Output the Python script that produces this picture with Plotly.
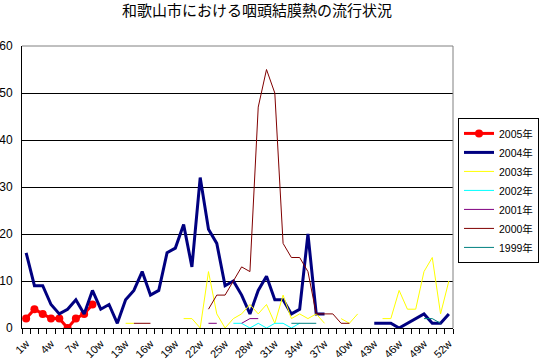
import plotly.graph_objects as go

N = None
weeks = list(range(1, 53))
week_labels = [f"{w}w" for w in weeks]

y2005 = [2, 4, 3, 2, 2, 0, 2, 3, 5] + [N] * 43
y2004 = [16, 9, 9, 5, 3, 4, 6, 3, 8, 4, 5, 1, 6, 8, 12, 7, 8, 16, 17, 22,
         13, 32, 21, 18, 9, 10, 7, 3, 8, 11, 6, 6, 3, 4, 20, 3, 3,
         N, N, N, N, N, 1, 1, 1, 0, 1, 2, 3, 1, 1, 3]
y2003 = [N] * 12 + [1, 1] + [N] * 5 + [2, 2, 0, 12, 3, 0, 2, 3, 5, 3, 5, 1, 7,
         2, 3, 2, 3, 1, N, 2, 1, 3, N, N, 2, 2, 8, 4, 4, 12, 15, 3, 10]
y2002 = [N] * 25 + [1, 1, 0, 1, 0, 1, 1, 0, 1] + [N] * 18
y2001 = [N] * 22 + [1, 1, N, N, 1, 2, 2] + [N] * 23
y2000 = [N] * 13 + [1, 1, 1] + [N] * 6 + [4, 7, 7, 10, 13, 12, 47, 55, 50, 18,
         15, 15, 12, 3, 3, 3, 1, 1] + [N] * 12
y1999 = [N] * 32 + [1, 1, 1, 1] + [N] * 12 + [2, 2, 1, N]

series = [
    ("2005年", y2005, "#FF0000", 3, True),
    ("2004年", y2004, "#000080", 3, False),
    ("2003年", y2003, "#FFFF00", 1, False),
    ("2002年", y2002, "#00FFFF", 1, False),
    ("2001年", y2001, "#800080", 1, False),
    ("2000年", y2000, "#800000", 1, False),
    ("1999年", y1999, "#008080", 1, False),
]

fig = go.Figure()
for name, ys, color, width, markers in series:
    fig.add_trace(go.Scatter(
        x=weeks, y=ys, name=name,
        mode="lines+markers" if markers else "lines",
        line=dict(color=color, width=width),
        marker=dict(size=8, color=color, symbol="circle"),
        connectgaps=False,
    ))

font_main = "Liberation Sans, Arial, Noto Sans CJK JP, sans-serif"

fig.update_layout(
    width=539, height=363,
    margin=dict(l=22, r=86, t=46, b=35, autoexpand=False),
    paper_bgcolor="white", plot_bgcolor="white",
    font=dict(family=font_main, size=11, color="black"),
    title=dict(text="和歌山市における咽頭結膜熱の流行状況",
               font=dict(family="Noto Sans CJK JP, sans-serif", size=15, color="black"),
               x=0.477, xanchor="center", y=0.985, yanchor="top", pad=dict(t=0, b=0)),
    showlegend=True,
    hovermode=False,
    legend=dict(x=(458 - 22) / 431, xanchor="left", y=0.745, yanchor="top",
                bordercolor="black", borderwidth=1, bgcolor="white",
                font=dict(size=10.5, family=font_main),
                tracegroupgap=0),
    xaxis=dict(
        range=[0.5, 52.5], tickmode="array", automargin=False,
        tickvals=weeks[::3], ticktext=week_labels[::3],
        tickangle=-45, ticks="", showgrid=False, zeroline=False,
        showline=True, linecolor="black", linewidth=1,
        tickfont=dict(size=11), ticklabelstandoff=4,
        minor=dict(ticks="outside", ticklen=5, tickcolor="black",
                   tickmode="array", tickvals=[w - 0.5 for w in weeks] + [weeks[-1] + 0.5],
                   showgrid=False),
    ),
    yaxis=dict(
        range=[0, 60], dtick=10, showgrid=True, gridcolor="black", gridwidth=1,
        zeroline=False, showline=True, linecolor="black", linewidth=1, automargin=False,
        ticks="", ticklabelstandoff=6, tickfont=dict(size=12),
    ),
    shapes=[
        dict(type="line", xref="paper", yref="paper", x0=0, x1=1, y0=1, y1=1,
             line=dict(color="#808080", width=1), layer="above"),
        dict(type="line", xref="paper", yref="paper", x0=1, x1=1, y0=0, y1=1,
             line=dict(color="#808080", width=1), layer="above"),
    ],
)

fig.write_html("out.html", config={"displayModeBar": False},
               post_script="document.body.style.margin='0';")
